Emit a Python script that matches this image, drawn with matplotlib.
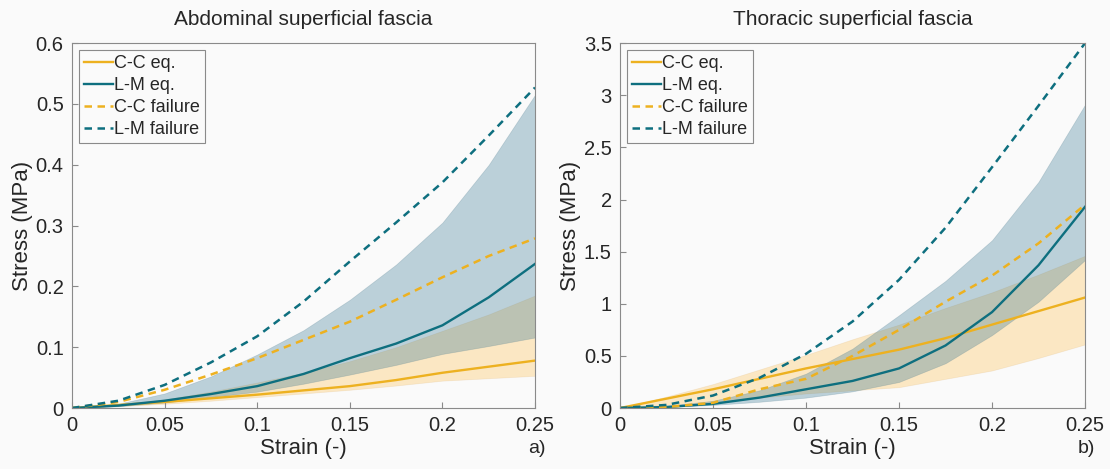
import matplotlib
matplotlib.use('Agg')
import matplotlib.pyplot as plt
from matplotlib.ticker import FuncFormatter

# ----------------------------- data ---------------------------------------- #

strain = [0, 0.025, 0.05, 0.075, 0.1, 0.125, 0.15, 0.175, 0.2, 0.225, 0.25]

# abdominal superficial fascia (MPa)
abd_cc_eq    = [0, 0.005, 0.010, 0.016, 0.022, 0.029, 0.036, 0.046, 0.058, 0.068, 0.078]
abd_cc_lo    = [0, 0.003, 0.007, 0.012, 0.018, 0.024, 0.030, 0.037, 0.045, 0.049, 0.053]
abd_cc_hi    = [0, 0.005, 0.014, 0.027, 0.042, 0.058, 0.077, 0.100, 0.127, 0.154, 0.185]
abd_lm_eq    = [0, 0.004, 0.012, 0.023, 0.036, 0.056, 0.082, 0.106, 0.136, 0.182, 0.237]
abd_lm_lo    = [0, 0.003, 0.009, 0.018, 0.027, 0.040, 0.055, 0.071, 0.089, 0.102, 0.116]
abd_lm_hi    = [0, 0.007, 0.024, 0.052, 0.088, 0.128, 0.178, 0.236, 0.305, 0.400, 0.515]
abd_cc_fail  = [0, 0.010, 0.030, 0.055, 0.082, 0.112, 0.142, 0.178, 0.215, 0.250, 0.279]
abd_lm_fail  = [0, 0.012, 0.038, 0.075, 0.118, 0.175, 0.241, 0.305, 0.371, 0.448, 0.527]

# thoracic superficial fascia (MPa)
tho_cc_eq    = [0, 0.09, 0.18, 0.28, 0.38, 0.47, 0.56, 0.67, 0.80, 0.93, 1.06]
tho_cc_lo    = [0, 0.03, 0.06, 0.10, 0.14, 0.17, 0.20, 0.28, 0.36, 0.48, 0.61]
tho_cc_hi    = [0, 0.11, 0.23, 0.37, 0.51, 0.66, 0.80, 0.96, 1.11, 1.28, 1.46]
tho_lm_eq    = [0, 0.01, 0.04, 0.10, 0.18, 0.26, 0.38, 0.60, 0.92, 1.37, 1.93]
tho_lm_lo    = [0, 0.01, 0.03, 0.06, 0.10, 0.16, 0.25, 0.43, 0.70, 1.02, 1.42]
tho_lm_hi    = [0, 0.02, 0.07, 0.17, 0.33, 0.57, 0.89, 1.22, 1.61, 2.17, 2.91]
tho_cc_fail  = [0, 0.01, 0.05, 0.18, 0.28, 0.50, 0.75, 1.02, 1.27, 1.58, 1.95]
tho_lm_fail  = [0, 0.03, 0.12, 0.29, 0.52, 0.83, 1.23, 1.73, 2.31, 2.90, 3.50]

titles = ["Abdominal superficial fascia", "Thoracic superficial fascia"]
panel_tags = ["a)", "b)"]
legend_labels = ["C-C eq.", "L-M eq.", "C-C failure", "L-M failure"]

# ----------------------------- style --------------------------------------- #

ORANGE = "#EDB120"
TEAL = "#0E6F7F"
ORANGE_FILL = "#FFA500"
BLUE_FILL = "#2A6F8E"
BG = "#fafafa"
TXT = "#262626"
SPINE = "#8a8a8a"

plt.rcParams['font.family'] = ['Liberation Sans', 'DejaVu Sans']


def draw_panel(ax, cc_eq, cc_lo, cc_hi, lm_eq, lm_lo, lm_hi, cc_fail, lm_fail,
               ymax, ystep, title, tag):
    ax.set_facecolor(BG)
    ax.fill_between(strain, cc_lo, cc_hi, color=ORANGE_FILL, alpha=0.22,
                    edgecolor="#dcb070", linewidth=0.5)
    ax.fill_between(strain, lm_lo, lm_hi, color=BLUE_FILL, alpha=0.3,
                    edgecolor="#5c8595", linewidth=0.5)
    ax.plot(strain, cc_eq, color=ORANGE, lw=1.7, label=legend_labels[0])
    ax.plot(strain, lm_eq, color=TEAL, lw=1.7, label=legend_labels[1])
    ax.plot(strain, cc_fail, color=ORANGE, lw=1.8, ls=(0, (3, 2.2)), label=legend_labels[2])
    ax.plot(strain, lm_fail, color=TEAL, lw=1.8, ls=(0, (3, 2.2)), label=legend_labels[3])

    ax.set_xlim(0, 0.25)
    ax.set_ylim(0, ymax)
    ax.set_xticks([0, 0.05, 0.1, 0.15, 0.2, 0.25])
    ax.set_yticks([i * ystep for i in range(int(round(ymax / ystep)) + 1)])
    fmt = FuncFormatter(lambda v, p: f"{v:g}")
    ax.xaxis.set_major_formatter(fmt)
    ax.yaxis.set_major_formatter(fmt)
    ax.tick_params(direction='in', length=4, width=0.8, color=SPINE,
                   labelsize=14.5, labelcolor=TXT, pad=6)
    for s in ax.spines.values():
        s.set_color(SPINE)
        s.set_linewidth(0.8)

    ax.set_title(title, fontsize=15, color=TXT, pad=13)
    ax.set_xlabel("Strain (-)", fontsize=16, color=TXT, labelpad=2)
    ax.set_ylabel("Stress (MPa)", fontsize=16, color=TXT, labelpad=2)
    ax.text(1.003, -0.11, tag, transform=ax.transAxes, fontsize=14,
            color=TXT, ha='center', va='center')

    leg = ax.legend(loc='upper left', fontsize=13, frameon=True, fancybox=False,
                    handlelength=1.6, handletextpad=0.1, borderpad=0.25,
                    labelspacing=0.28, borderaxespad=0.4)
    leg.get_frame().set_edgecolor(SPINE)
    leg.get_frame().set_linewidth(0.8)
    leg.get_frame().set_facecolor(BG)
    leg.get_frame().set_alpha(1)
    for t in leg.get_texts():
        t.set_color(TXT)


fig = plt.figure(figsize=(11.1, 4.69), dpi=100, facecolor=BG)
ax1 = fig.add_axes([0.0649, 0.130, 0.4171, 0.778])
ax2 = fig.add_axes([0.5586, 0.130, 0.4189, 0.778])

draw_panel(ax1, abd_cc_eq, abd_cc_lo, abd_cc_hi, abd_lm_eq, abd_lm_lo, abd_lm_hi,
           abd_cc_fail, abd_lm_fail, 0.6, 0.1, titles[0], panel_tags[0])
draw_panel(ax2, tho_cc_eq, tho_cc_lo, tho_cc_hi, tho_lm_eq, tho_lm_lo, tho_lm_hi,
           tho_cc_fail, tho_lm_fail, 3.5, 0.5, titles[1], panel_tags[1])

fig.savefig("out.png", dpi=100, facecolor=BG)
